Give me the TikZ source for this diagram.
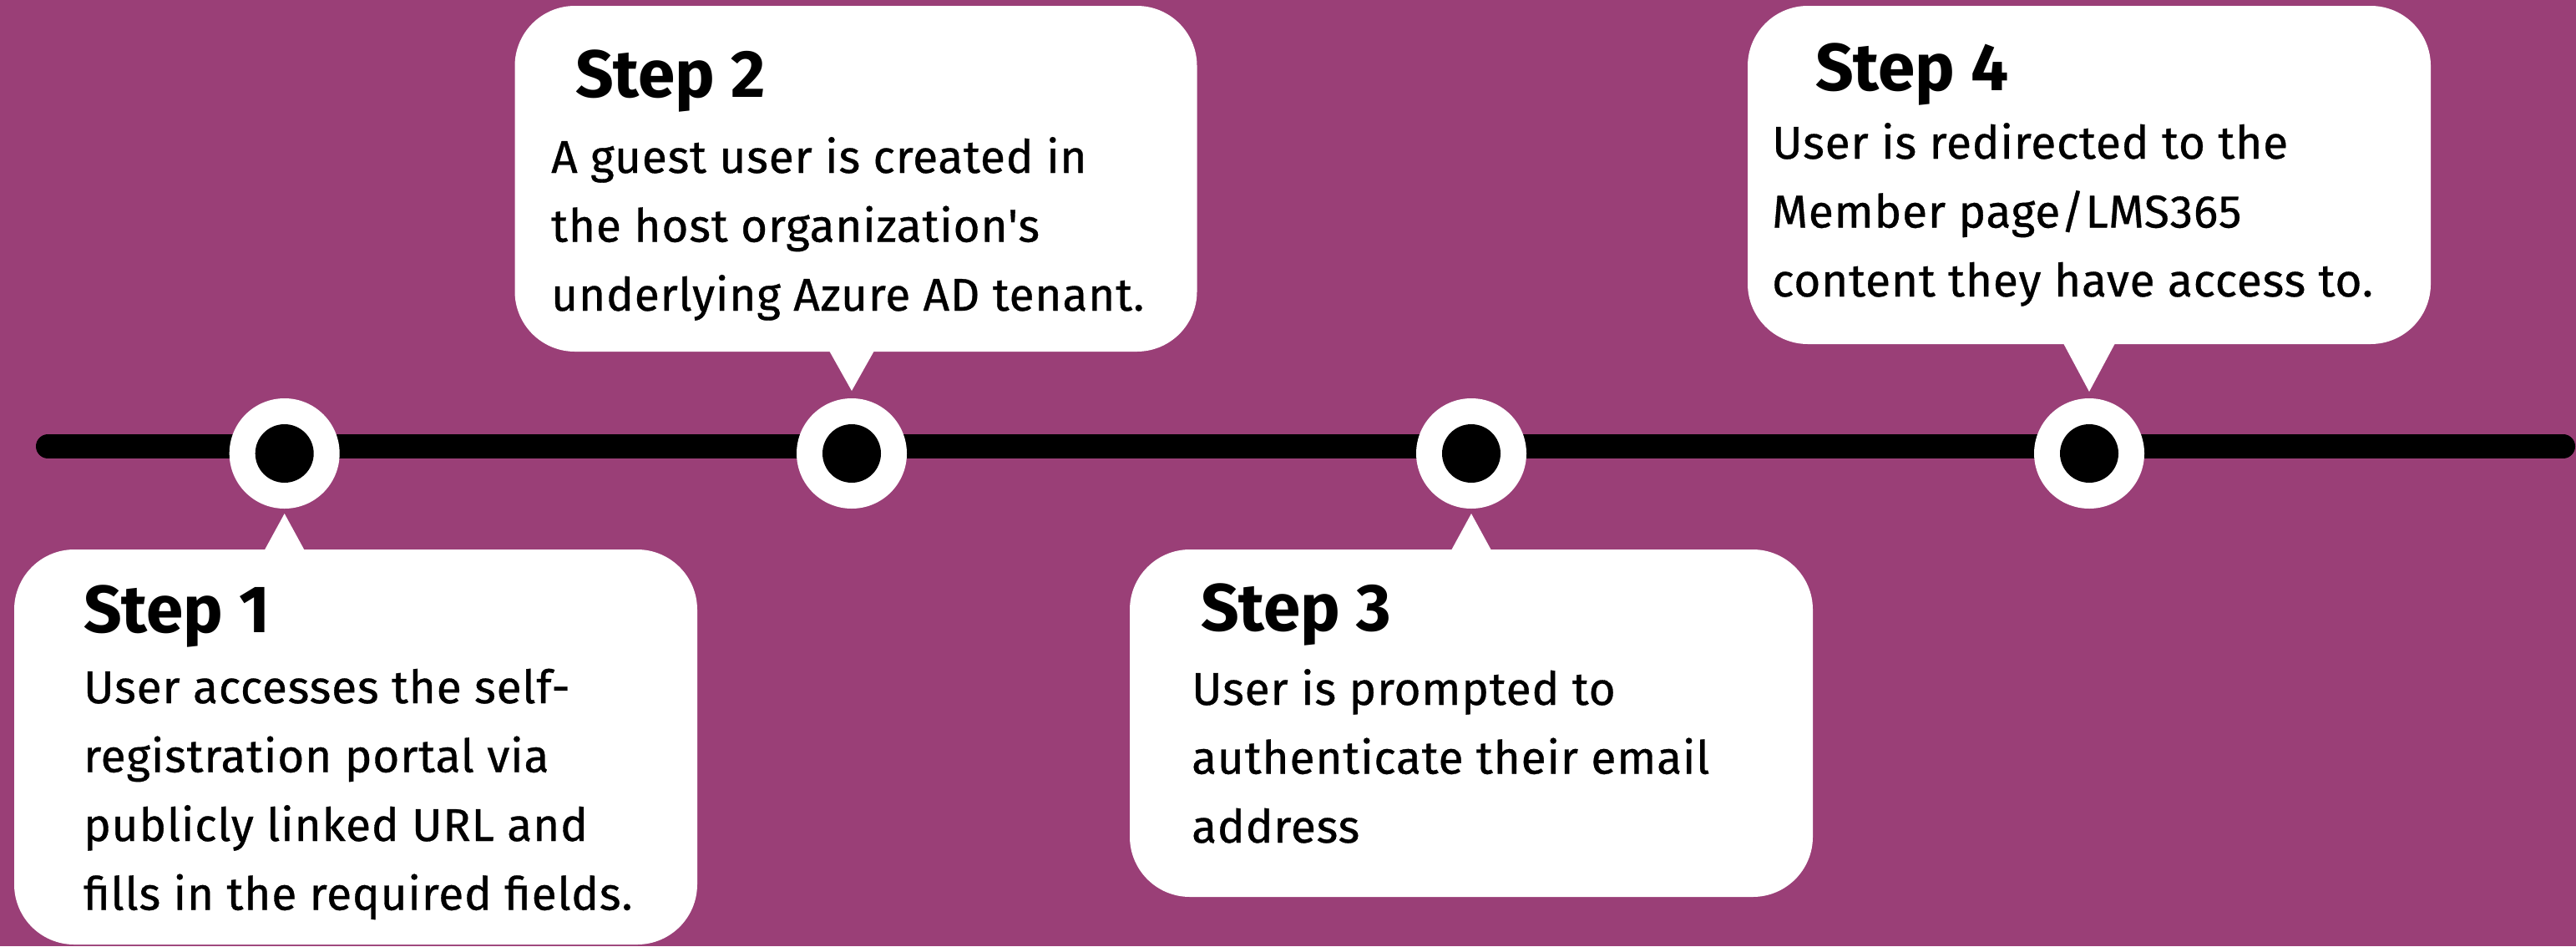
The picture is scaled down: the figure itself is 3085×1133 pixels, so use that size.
\documentclass[tikz,border=0pt]{standalone}
\usepackage{fontspec}
\setmainfont{Fira Sans}
\newfontfamily\bodyfont{Fira Sans}[FakeBold=0.6,LetterSpace=1.5]
\usetikzlibrary{calc}
\definecolor{bg}{HTML}{9A3F77}
\newcommand\bodytxt[1]{\parbox[t]{900pt}{\bodyfont\fontsize{55}{82.5}\selectfont\raggedright #1}}
\begin{document}
\begin{tikzpicture}[x=1pt,y=-1pt,
  bubble/.style={fill=white, draw=none, rounded corners=72pt, inner sep=0pt},
  ring/.style={circle, fill=white, minimum size=132pt, inner sep=0pt},
  dot/.style={circle, fill=black, minimum size=70pt, inner sep=0pt},
  head/.style={anchor=base west, inner sep=0pt, font=\fontsize{80}{80}\selectfont\bfseries},
  body/.style={anchor=base west, inner sep=0pt},
  tl/.style={line width=29pt, line cap=round, draw=black}]
\fill[bg] (0,0) rectangle (3085,1133);
\useasboundingbox (0,0) rectangle (3085,1133);
% timeline
\coordinate (L) at (57.5,534.5);
\coordinate (R) at (3069.5,534.5);
\draw[tl] (L) -- (R);
% markers
\node[ring] (c1) at (340.7,543) {};
\node[dot] (d1) at (c1) {};
\node[ring] (c2) at (1020,543) {};
\node[dot] (d2) at (c2) {};
\node[ring] (c3) at (1762,543) {};
\node[dot] (d3) at (c3) {};
\node[ring] (c4) at (2502,543) {};
\node[dot] (d4) at (c4) {};
% bubbles
\node[bubble, minimum width=818pt, minimum height=473pt] (b1) at (426,894.5) {};
\node[bubble, minimum width=817pt, minimum height=414pt] (b2) at (1025,214) {};
\node[bubble, minimum width=818pt, minimum height=416pt] (b3) at (1762,866) {};
\node[bubble, minimum width=818pt, minimum height=405pt] (b4) at (2502,209.5) {};
% pointers
\coordinate (p1) at (340.7,615);
\coordinate (p2) at (1020,468);
\coordinate (p3) at (1762,615);
\coordinate (p4) at (2502,469);
\fill[white] (p1) -- ([xshift=-25pt,yshift=-3pt]p1 |- b1.north) -- ([xshift=25pt,yshift=-3pt]p1 |- b1.north) -- cycle;
\fill[white] (p2) -- ([xshift=-28pt,yshift=3pt]p2 |- b2.south) -- ([xshift=28pt,yshift=3pt]p2 |- b2.south) -- cycle;
\fill[white] (p3) -- ([xshift=-25pt,yshift=-3pt]p3 |- b3.north) -- ([xshift=25pt,yshift=-3pt]p3 |- b3.north) -- cycle;
\fill[white] (p4) -- ([xshift=-32pt,yshift=3pt]p4 |- b4.south) -- ([xshift=32pt,yshift=3pt]p4 |- b4.south) -- cycle;
% texts
\node[head] (h1) at (100,757) {Step 1};
\node[body] (t1) at (100,842) {\bodytxt{User accesses the self-\\registration portal via\\publicly linked URL and\\fills in the required fields.}};
\node[head] (h2) at (689,116) {Step 2};
\node[body] (t2) at (660,207) {\bodytxt{A guest user is created in\\the host organization{\char"27}s\\underlying Azure AD tenant.}};
\node[head] (h3) at (1438,755) {Step 3};
\node[body] (t3) at (1427,844) {\bodytxt{User is prompted to\\authenticate their email\\address}};
\node[head] (h4) at (2174,108) {Step 4};
\node[body] (t4) at (2122,190) {\bodytxt{User is redirected to the\\Member page/LMS365\\content they have access to.}};
\end{tikzpicture}
\end{document}
